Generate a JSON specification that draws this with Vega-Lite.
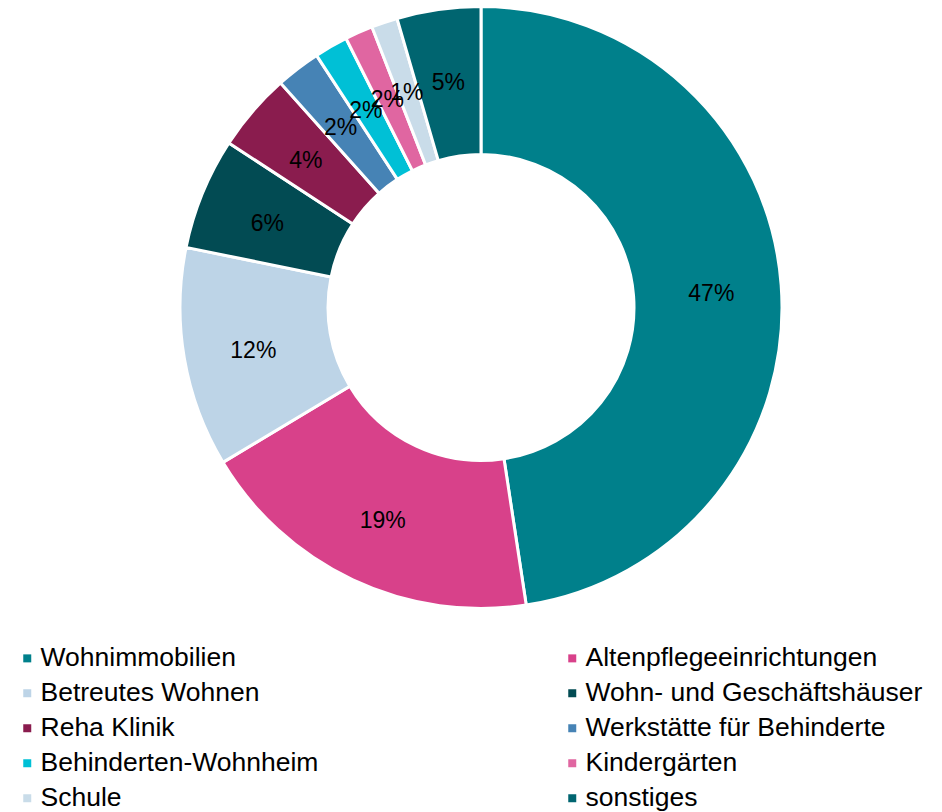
{
  "$schema": "https://vega.github.io/schema/vega-lite/v6.json",
  "width": 922,
  "height": 615,
  "autosize": {"type": "none"},
  "padding": {"left": 20, "top": 0, "right": 0, "bottom": 197},
  "background": "white",
  "config": {"view": {"stroke": null}, "font": "Liberation Sans"},
  "data": {
    "values": [
      {"kategorie": "Wohnimmobilien", "anteil": 47.6, "label": "47%"},
      {"kategorie": "Altenpflegeeinrichtungen", "anteil": 18.8, "label": "19%"},
      {"kategorie": "Betreutes Wohnen", "anteil": 11.8, "label": "12%"},
      {"kategorie": "Wohn- und Geschäftshäuser", "anteil": 6.0, "label": "6%"},
      {"kategorie": "Reha Klinik", "anteil": 4.2, "label": "4%"},
      {"kategorie": "Werkstätte für Behinderte", "anteil": 2.4, "label": "2%"},
      {"kategorie": "Behinderten-Wohnheim", "anteil": 1.8, "label": "2%"},
      {"kategorie": "Kindergärten", "anteil": 1.5, "label": "2%"},
      {"kategorie": "Schule", "anteil": 1.4, "label": "1%"},
      {"kategorie": "sonstiges", "anteil": 4.5, "label": "5%"}
    ]
  },
  "transform": [{"window": [{"op": "row_number", "as": "rang"}]}],
  "encoding": {
    "theta": {"field": "anteil", "type": "quantitative", "stack": true},
    "order": {"field": "rang", "type": "quantitative"}
  },
  "layer": [
    {
      "mark": {"type": "arc", "radius": 301, "radius2": 153, "stroke": "white", "strokeWidth": 3},
      "encoding": {
        "color": {
          "field": "kategorie",
          "type": "nominal",
          "scale": {
            "domain": ["Wohnimmobilien", "Betreutes Wohnen", "Reha Klinik", "Behinderten-Wohnheim", "Schule", "Altenpflegeeinrichtungen", "Wohn- und Geschäftshäuser", "Werkstätte für Behinderte", "Kindergärten", "sonstiges"],
            "range": ["#00808B", "#BDD4E7", "#8A1C4E", "#00C0D6", "#C9DCE9", "#D8418A", "#024B53", "#4683B5", "#E066A1", "#006570"]
          },
          "legend": {
            "title": null,
            "orient": "none",
            "legendX": -6,
            "legendY": 645,
            "padding": 0,
            "columns": 2,
            "columnPadding": 240,
            "rowPadding": 8,
            "symbolType": "square",
            "symbolSize": 64,
            "symbolStrokeWidth": 0,
            "labelFont": "Liberation Sans",
            "labelFontSize": 26.5,
            "labelColor": "#000000",
            "labelOffset": 0,
            "labelLimit": 500
          }
        }
      }
    },
    {
      "mark": {"type": "text", "radius": 231, "dy": 4, "font": "Liberation Sans", "fontSize": 23, "color": "#000000"},
      "encoding": {
        "text": {"field": "label", "type": "nominal"}
      }
    }
  ]
}
